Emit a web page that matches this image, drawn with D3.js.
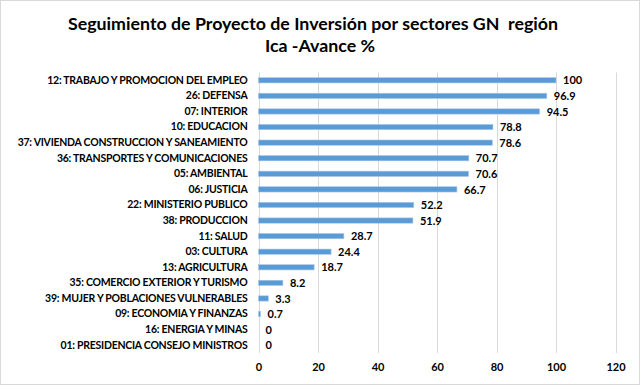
<!DOCTYPE html>
<html>
<head>
<meta charset="utf-8">
<script src="https://cdn.jsdelivr.net/npm/d3@7"></script>
<style>
  body { margin: 0; background: #fff; }
  text { font-family: Lato, "Open Sans", sans-serif; }
</style>
</head>
<body>
<div id="chart"></div>
<script>
// sectors, top to bottom
var sectors = [
  "12: TRABAJO Y PROMOCION DEL EMPLEO",
  "26: DEFENSA",
  "07: INTERIOR",
  "10: EDUCACION",
  "37: VIVIENDA CONSTRUCCION Y SANEAMIENTO",
  "36: TRANSPORTES Y COMUNICACIONES",
  "05: AMBIENTAL",
  "06: JUSTICIA",
  "22: MINISTERIO PUBLICO",
  "38: PRODUCCION",
  "11: SALUD",
  "03: CULTURA",
  "13: AGRICULTURA",
  "35: COMERCIO EXTERIOR Y TURISMO",
  "39: MUJER Y POBLACIONES VULNERABLES",
  "09: ECONOMIA Y FINANZAS",
  "16: ENERGIA Y MINAS",
  "01: PRESIDENCIA CONSEJO MINISTROS"
];
var avance = [100, 96.9, 94.5, 78.8, 78.6, 70.7, 70.6, 66.7, 52.2, 51.9, 28.7, 24.4, 18.7, 8.2, 3.3, 0.7, 0, 0];
var xTicks = [0, 20, 40, 60, 80, 100, 120];

var width = 640, height = 385;
var margin = { top: 72.5, left: 258.5, right: 25, bottom: 32 };

var svg = d3.select("#chart").append("svg")
  .attr("width", width)
  .attr("height", height);

svg.append("rect")
  .attr("x", 0.5).attr("y", 0.5)
  .attr("width", width - 1).attr("height", height - 1)
  .attr("fill", "#fff")
  .attr("stroke", "#d9d9d9");

var x = d3.scaleLinear()
  .domain([0, 120])
  .range([margin.left, 615.5]);

var y = d3.scaleBand()
  .domain(sectors)
  .range([margin.top, height - margin.bottom])
  .paddingInner(0.66)
  .paddingOuter(0.33);

// gridlines
svg.append("g")
  .selectAll("line")
  .data(xTicks)
  .enter()
  .append("line")
  .attr("x1", function(d) { return Math.round(x(d)) + 0.5; })
  .attr("x2", function(d) { return Math.round(x(d)) + 0.5; })
  .attr("y1", margin.top)
  .attr("y2", height - margin.bottom)
  .attr("stroke", "#d9d9d9")
  .attr("stroke-width", 1);

// bars
svg.append("g")
  .selectAll("rect")
  .data(avance)
  .enter()
  .append("rect")
  .attr("x", x(0))
  .attr("y", function(d, i) { return y(sectors[i]); })
  .attr("width", function(d) { return x(d) - x(0); })
  .attr("height", y.bandwidth())
  .attr("fill", "#5b9bd5")
  .attr("stroke", "#a9c8ea")
  .attr("stroke-width", 0.6);

// value labels
svg.append("g")
  .selectAll("text")
  .data(avance)
  .enter()
  .append("text")
  .attr("x", function(d) { return x(d) + 7; })
  .attr("y", function(d, i) { return y(sectors[i]) + y.bandwidth() / 2; })
  .attr("dy", "0.38em")
  .style("font-size", "11px")
  .style("font-weight", "bold")
  .attr("fill", "#000")
  .text(function(d) { return d; });

// category axis
var yAxis = d3.axisLeft(y).tickSize(0).tickPadding(11);
var gy = svg.append("g")
  .attr("transform", "translate(" + margin.left + ",0)")
  .call(yAxis);
gy.select(".domain").remove();
gy.selectAll("text")
  .style("font-family", "Lato, 'Open Sans', sans-serif")
  .style("font-size", "10.5px")
  .style("letter-spacing", "-0.25px")
  .style("font-weight", "bold")
  .attr("fill", "#000");

// value axis
var xAxis = d3.axisBottom(x).tickValues(xTicks).tickSize(0).tickPadding(10);
var gx = svg.append("g")
  .attr("transform", "translate(0," + (height - margin.bottom) + ")")
  .call(xAxis);
gx.select(".domain").remove();
gx.selectAll("text")
  .style("font-family", "Lato, 'Open Sans', sans-serif")
  .style("font-size", "11px")
  .style("font-weight", "bold")
  .attr("fill", "#000");

// title
svg.append("text")
  .attr("x", 313)
  .attr("y", 30)
  .attr("text-anchor", "middle")
  .style("font-size", "17.8px")
  .style("font-weight", "bold")
  .attr("fill", "#000")
  .attr("xml:space", "preserve")
  .text("Seguimiento de Proyecto de Inversión por sectores GN  región");

svg.append("text")
  .attr("x", 320)
  .attr("y", 52)
  .attr("text-anchor", "middle")
  .style("font-size", "17.8px")
  .style("font-weight", "bold")
  .attr("fill", "#000")
  .text("Ica -Avance %");
</script>
</body>
</html>
